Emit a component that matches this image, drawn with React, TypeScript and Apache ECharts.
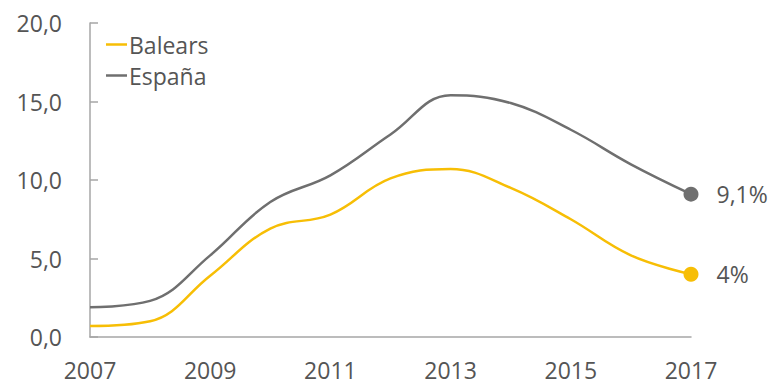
import React, { useEffect, useRef } from "react";
import * as echarts from "echarts";

const years = ["2007", "2008", "2009", "2010", "2011", "2012", "2013", "2014", "2015", "2016", "2017"];
const balears = [0.7, 1.0, 3.9, 6.9, 7.8, 10.1, 10.7, 9.5, 7.5, 5.2, 4.0];
const espana = [1.9, 2.3, 5.2, 8.6, 10.3, 12.9, 15.4, 14.9, 13.2, 11.0, 9.1];
const endLabels = { Balears: "4%", "España": "9,1%" };
const yTicks = [0, 5, 10, 15, 20];

const FONT = "'Open Sans', 'Noto Sans', sans-serif";
const WEIGHT = 400;
const TEXT = "#555555";
const YELLOW = "#F7BE05";
const GRAY = "#6F6F6F";

function buildData(values: number[], name: string, color: string) {
  return values.map((v, i) =>
    i === values.length - 1
      ? {
          value: v,
          symbol: "circle",
          symbolSize: 15,
          itemStyle: { color },
          label: {
            show: true,
            position: "right",
            distance: 18,
            formatter: (endLabels as any)[name],
            fontFamily: FONT,
            fontWeight: WEIGHT,
            fontSize: 23,
            color: TEXT,
          },
        }
      : { value: v, symbol: "none" }
  );
}

export default function App() {
  const ref = useRef<HTMLDivElement>(null);
  useEffect(() => {
    if (!ref.current) return;
    const chart = echarts.init(ref.current, undefined, { renderer: "svg" });
    chart.setOption({
      animation: false,
      backgroundColor: "#ffffff",
      grid: { left: 90, right: 89, top: 23, bottom: 48 },
      legend: {
        orient: "vertical",
        left: 101,
        top: 28,
        icon: "rect",
        itemWidth: 21,
        itemHeight: 2.5,
        itemGap: 8,
        textStyle: { fontFamily: FONT, fontWeight: WEIGHT, fontSize: 23, color: TEXT, padding: [0, 0, 0, -3] },
        data: ["Balears", "España"],
      },
      xAxis: {
        type: "category",
        data: years,
        boundaryGap: false,
        axisLine: { lineStyle: { color: "#A6A6A6", width: 1.5 } },
        axisTick: { show: false },
        axisLabel: {
          interval: 1,
          margin: 21,
          fontFamily: FONT,
          fontWeight: WEIGHT,
          fontSize: 23,
          color: TEXT,
        },
        splitLine: { show: false },
      },
      yAxis: {
        type: "value",
        min: yTicks[0],
        max: yTicks[yTicks.length - 1],
        interval: 5,
        axisLine: { show: true, lineStyle: { color: "#A6A6A6", width: 1.5 } },
        axisTick: { show: true, inside: true, length: 8, lineStyle: { color: "#A6A6A6", width: 1.5 } },
        axisLabel: {
          margin: 28,
          fontFamily: FONT,
          fontWeight: WEIGHT,
          fontSize: 23,
          color: TEXT,
          formatter: (v: number) => v.toFixed(1).replace(".", ","),
        },
        splitLine: { show: false },
      },
      series: [
        {
          name: "Balears",
          type: "line",
          smooth: 0.4,
          color: YELLOW,
          lineStyle: { color: YELLOW, width: 2.5 },
          itemStyle: { color: YELLOW },
          symbol: "none",
          showSymbol: true,
          data: buildData(balears, "Balears", YELLOW),
          z: 3,
        },
        {
          name: "España",
          type: "line",
          smooth: 0.4,
          color: GRAY,
          lineStyle: { color: GRAY, width: 2.5 },
          itemStyle: { color: GRAY },
          symbol: "none",
          showSymbol: true,
          data: buildData(espana, "España", GRAY),
          z: 2,
        },
      ],
    });
    return () => chart.dispose();
  }, []);
  return (
    <div
      ref={ref}
      style={{ position: "absolute", left: 0, top: 0, width: 780, height: 385 }}
    />
  );
}
